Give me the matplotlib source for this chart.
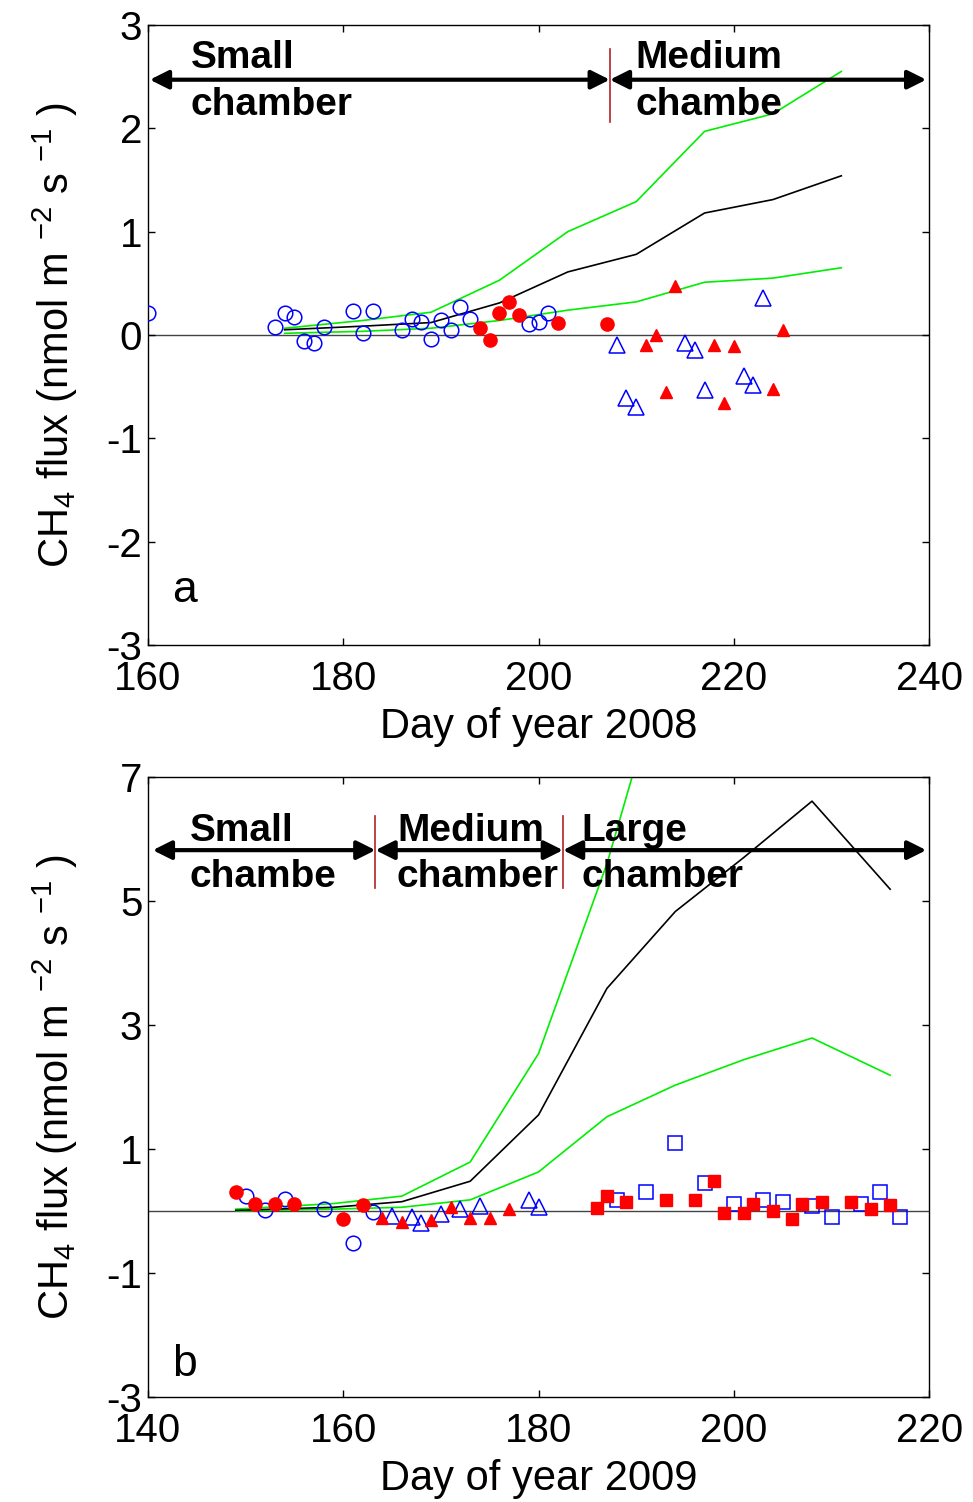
import matplotlib
matplotlib.use("Agg")
import matplotlib.pyplot as plt

plt.rcParams["font.family"] = ["Liberation Sans", "DejaVu Sans"]
plt.rcParams["axes.unicode_minus"] = False
plt.rcParams["mathtext.fontset"] = "custom"
plt.rcParams["mathtext.rm"] = "Liberation Sans"
plt.rcParams["mathtext.it"] = "Liberation Sans"

# ---- 2008 data ----
a_small_x = [160, 173, 174, 175, 176, 177, 178, 181, 182, 183, 186, 187, 188, 189, 190, 191, 192, 193, 199, 200, 201]
a_small_y = [0.21, 0.08, 0.21, 0.17, -0.06, -0.08, 0.08, 0.23, 0.02, 0.23, 0.05, 0.15, 0.13, -0.04, 0.14, 0.05, 0.27, 0.15, 0.11, 0.13, 0.21]
a_small_red_x = [194, 195, 196, 197, 198, 202, 207]
a_small_red_y = [0.07, -0.05, 0.21, 0.32, 0.19, 0.12, 0.11]
a_med_x = [208, 209, 210, 215, 216, 217, 221, 222, 223]
a_med_y = [-0.10, -0.61, -0.70, -0.08, -0.15, -0.53, -0.40, -0.48, 0.36]
a_med_red_x = [211, 212, 213, 214, 218, 219, 220, 224, 225]
a_med_red_y = [-0.10, 0.0, -0.55, 0.47, -0.10, -0.66, -0.11, -0.52, 0.05]
a_days = [174, 182, 189, 196, 203, 210, 217, 224, 231]
a_mid = [0.05, 0.085, 0.12, 0.31, 0.61, 0.78, 1.18, 1.31, 1.54]
a_up = [0.065, 0.14, 0.22, 0.53, 1.0, 1.29, 1.97, 2.14, 2.55]
a_lo = [0.016, 0.035, 0.065, 0.14, 0.24, 0.32, 0.51, 0.55, 0.65]

# ---- 2009 data ----
b_small_x = [150, 152, 154, 158, 161, 163]
b_small_y = [0.24, 0.02, 0.20, 0.03, -0.52, -0.01]
b_small_red_x = [149, 151, 153, 155, 160, 162]
b_small_red_y = [0.31, 0.12, 0.12, 0.12, -0.13, 0.09]
b_med_x = [165, 167, 168, 170, 172, 174, 179, 180]
b_med_y = [-0.08, -0.10, -0.20, -0.05, 0.04, 0.08, 0.17, 0.07]
b_med_red_x = [164, 166, 169, 171, 173, 175, 177]
b_med_red_y = [-0.12, -0.17, -0.15, 0.06, -0.12, -0.12, 0.03]
b_large_x = [188, 191, 194, 197, 200, 203, 205, 208, 210, 213, 215, 217]
b_large_y = [0.18, 0.30, 1.09, 0.45, 0.12, 0.18, 0.15, 0.08, -0.09, 0.12, 0.30, -0.09]
b_large_red_x = [186, 187, 189, 193, 196, 198, 199, 201, 202, 204, 206, 207, 209, 212, 214, 216]
b_large_red_y = [0.05, 0.24, 0.15, 0.18, 0.18, 0.48, -0.04, -0.04, 0.12, 0.0, -0.13, 0.12, 0.15, 0.15, 0.03, 0.09]
b_days = [149, 159, 166, 173, 180, 187, 194, 201, 208, 216]
b_mid = [0.01, 0.06, 0.15, 0.48, 1.55, 3.59, 4.83, 5.7, 6.61, 5.19]
b_up = [0.03, 0.12, 0.24, 0.79, 2.54, 5.6, 9.4, 10.2, 10.8, 8.6]
b_lo = [0.0, 0.03, 0.06, 0.18, 0.63, 1.52, 2.03, 2.44, 2.79, 2.19]

BLUE = "#0000ff"
RED = "#ff0000"
GREEN = "#00ee00"
DARKRED = "#b22222"
TICKFS = 29
ANNFS = 28
ylab = r"CH$_4$ flux (nmol m $^{-2}$ s $^{-1}$ )"

fig = plt.figure(figsize=(9.73, 15.02), dpi=100)
ax1 = fig.add_axes([0.152, 0.5706, 0.803, 0.4128])
ax2 = fig.add_axes([0.152, 0.0699, 0.803, 0.4128])


def style(ax):
    ax.tick_params(direction="in", length=5, width=1, top=True, right=True,
                   labelsize=TICKFS, pad=4)
    ax.tick_params(axis="x", pad=11)
    for s in ax.spines.values():
        s.set_linewidth(1)
    ax.set_ylabel(ylab, fontsize=30, labelpad=19)


def bracket(ax, x0, x1, y):
    ax.annotate("", xy=(x1, y), xytext=(x0, y),
                arrowprops=dict(arrowstyle="<|-|>", lw=3, color="black",
                                mutation_scale=28, shrinkA=0, shrinkB=0))


# panel a
ax = ax1
ax.axhline(0, color="#444444", lw=1, zorder=1)
ax.plot(a_days, a_up, color=GREEN, lw=1.2, zorder=2)
ax.plot(a_days, a_lo, color=GREEN, lw=1.2, zorder=2)
ax.plot(a_days, a_mid, color="black", lw=1.2, zorder=2)
ax.plot(a_small_x, a_small_y, "o", ms=10.5, mfc="none", mec=BLUE, mew=1.1, zorder=3)
ax.plot(a_small_red_x, a_small_red_y, "o", ms=9.5, mfc=RED, mec=RED, zorder=3)
ax.plot(a_med_x, a_med_y, "^", ms=12, mfc="none", mec=BLUE, mew=1.1, zorder=3)
ax.plot(a_med_red_x, a_med_red_y, "^", ms=8, mfc=RED, mec=RED, zorder=3)
ax.set_xlim(160, 240)
ax.set_ylim(-3, 3)
ax.set_xticks([160, 180, 200, 220, 240])
ax.set_yticks([-3, -2, -1, 0, 1, 2, 3])
style(ax)
ax.set_xlabel("Day of year 2008", fontsize=30, labelpad=6)
bracket(ax, 160.2, 207.3, 2.47)
bracket(ax, 207.3, 239.7, 2.47)
ax.plot([207.3, 207.3], [2.06, 2.77], color=DARKRED, lw=1.2)
ax.text(164.4, 2.585, "Small", fontsize=ANNFS, fontweight="bold")
ax.text(164.4, 2.13, "chamber", fontsize=ANNFS, fontweight="bold")
ax.text(209.9, 2.585, "Medium", fontsize=ANNFS, fontweight="bold")
ax.text(209.9, 2.13, "chambe", fontsize=ANNFS, fontweight="bold")
ax.text(162.5, -2.47, "a", fontsize=32, va="center")

# panel b
ax = ax2
ax.axhline(0, color="#444444", lw=1, zorder=1)
ax.plot(b_days, b_up, color=GREEN, lw=1.2, zorder=2)
ax.plot(b_days, b_lo, color=GREEN, lw=1.2, zorder=2)
ax.plot(b_days, b_mid, color="black", lw=1.2, zorder=2)
ax.plot(b_small_x, b_small_y, "o", ms=10.5, mfc="none", mec=BLUE, mew=1.1, zorder=3)
ax.plot(b_small_red_x, b_small_red_y, "o", ms=9.5, mfc=RED, mec=RED, zorder=3)
ax.plot(b_med_x, b_med_y, "^", ms=12, mfc="none", mec=BLUE, mew=1.1, zorder=3)
ax.plot(b_med_red_x, b_med_red_y, "^", ms=8, mfc=RED, mec=RED, zorder=3)
ax.plot(b_large_x, b_large_y, "s", ms=10, mfc="none", mec=BLUE, mew=1.1, zorder=3)
ax.plot(b_large_red_x, b_large_red_y, "s", ms=8.5, mfc=RED, mec=RED, zorder=3)
ax.set_xlim(140, 220)
ax.set_ylim(-3, 7)
ax.set_xticks([140, 160, 180, 200, 220])
ax.set_yticks([-3, -1, 1, 3, 5, 7])
style(ax)
ax.set_xlabel("Day of year 2009", fontsize=30, labelpad=6)
bracket(ax, 140.5, 163.3, 5.82)
bracket(ax, 163.3, 182.5, 5.82)
bracket(ax, 182.5, 219.7, 5.82)
for xv in [163.3, 182.5]:
    ax.plot([xv, xv], [5.21, 6.37], color=DARKRED, lw=1.2)
ax.text(144.3, 5.96, "Small", fontsize=ANNFS, fontweight="bold")
ax.text(144.3, 5.22, "chambe", fontsize=ANNFS, fontweight="bold")
ax.text(165.5, 5.96, "Medium", fontsize=ANNFS, fontweight="bold")
ax.text(165.5, 5.22, "chamber", fontsize=ANNFS, fontweight="bold")
ax.text(184.4, 5.96, "Large", fontsize=ANNFS, fontweight="bold")
ax.text(184.4, 5.22, "chamber", fontsize=ANNFS, fontweight="bold")
ax.text(142.5, -2.47, "b", fontsize=32, va="center")

fig.savefig("out.png", dpi=100)
